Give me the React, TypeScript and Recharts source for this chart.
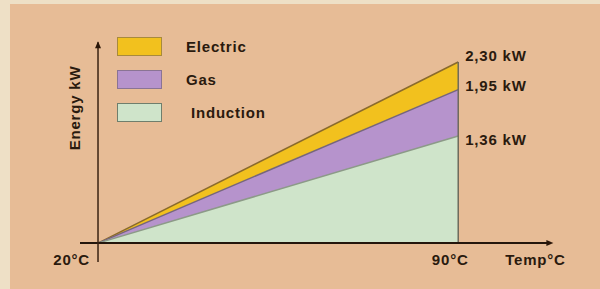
import React from 'react';
import { AreaChart, Area, XAxis, YAxis, ReferenceLine, ReferenceDot, Legend } from 'recharts';

const temps = [20, 90];
const electric = [0, 2.3];
const gas = [0, 1.95];
const induction = [0, 1.36];

const tickValues = [20, 90, 105];
const tickLabels = ['20°C', '90°C', 'Temp°C'];

const endLabels = ['2,30 kW', '1,95 kW', '1,36 kW'];

// small nudges so the labels sit like in the original drawing
const tickStyle = [
  { dx: -8, anchor: 'end' },
  { dx: -8, anchor: 'middle' },
  { dx: 0, anchor: 'middle' },
];

const series = [
  { key: 'Electric', values: electric, fill: '#f2c11e', stroke: '#8a6a2c', border: '#a88a3c', labelDy: -5 },
  { key: 'Gas', values: gas, fill: '#b693cc', stroke: '#76667c', border: '#8a7494', labelDy: -2.5 },
  { key: 'Induction', values: induction, fill: '#cfe4ca', stroke: '#8c9a88', border: '#6f7e6c', labelDy: 5 },
];

const font = '"Liberation Sans", Arial, sans-serif';

const data = temps.map((t, i) => {
  let obj: any = { temp: t };
  series.forEach(s => {
    obj[s.key] = s.values[i];
  });
  return obj;
});

function TempTick(props: any) {
  const idx = tickValues.indexOf(props.payload.value);
  const st = tickStyle[idx];
  return (
    <text x={props.x + st.dx} y={props.y - 5} textAnchor={st.anchor} fontFamily={font} fontWeight="bold"
      fontSize={15} letterSpacing={0.8} fill="#2a1a0e">
      {tickLabels[idx]}
    </text>
  );
}

function LegendBox() {
  return (
    <div style={{ fontFamily: font, fontWeight: 'bold', fontSize: 15, letterSpacing: 0.8, color: '#2a1a0e' }}>
      {series.map((s, i) => (
        <div key={s.key} style={{ display: 'flex', alignItems: 'center', height: 33 }}>
          <div style={{ width: 43, height: 17, background: s.fill, border: '1px solid ' + s.border }} />
          <span style={{ marginLeft: i == 2 ? 29 : 24 }}>{s.key}</span>
        </div>
      ))}
    </div>
  );
}

function endLabel(idx: number) {
  return (props: any) => {
    if (props.index !== temps.length - 1) return null;
    return (
      <text x={props.x + 7} y={props.y + series[idx].labelDy} dominantBaseline="middle" fontFamily={font}
        fontWeight="bold" fontSize={15} letterSpacing={0.8} fill="#2a1a0e">
        {endLabels[idx]}
      </text>
    );
  };
}

function Arrow(props: any) {
  const { cx, cy, dir } = props;
  if (dir === 'up') {
    return <polygon points={`${cx - 3},${cy + 6} ${cx + 3},${cy + 6} ${cx},${cy - 1}`} fill="#2a1608" />;
  }
  return <polygon points={`${cx - 6},${cy - 3} ${cx - 6},${cy + 3} ${cx + 1},${cy}`} fill="#2a1608" />;
}

export default function App() {
  return (
    <div style={{ position: 'absolute', left: 0, top: 0, width: 600, height: 289, background: '#eee0c6' }}>
      <div style={{ position: 'absolute', left: 10, top: 4, right: 0, bottom: 0, background: '#e7bc96' }} />
      <div style={{ position: 'absolute', left: 0, top: 0 }}>
        <AreaChart width={600} height={289} data={data} margin={{ top: 40, right: 44, left: 80, bottom: 0 }}>
          <XAxis dataKey="temp" type="number" domain={[16.5, 109]} ticks={tickValues} height={27}
            axisLine={false} tickLine={false} tick={<TempTick />} interval={0} />
          <YAxis type="number" domain={[-0.24, 2.58]} hide />
          {series.map((s, idx) => (
            <Area key={s.key} type="linear" dataKey={s.key} baseValue={0} fill={s.fill} fillOpacity={1}
              stroke={s.stroke} strokeWidth={1.5} isAnimationActive={false} label={endLabel(idx)} />
          ))}
          <ReferenceLine segment={[{ x: 90, y: 0 }, { x: 90, y: electric[1] }]} stroke="#6e6a5c" strokeWidth={1.5} />
          <ReferenceLine segment={[{ x: 16.5, y: 0 }, { x: 108, y: 0 }]} stroke="#24160c" strokeWidth={2} />
          <ReferenceLine segment={[{ x: 20, y: -0.24 }, { x: 20, y: 2.55 }]} stroke="#3a2212" strokeWidth={1.5} />
          <ReferenceDot x={20} y={2.55} r={0} shape={<Arrow dir="up" />} />
          <ReferenceDot x={108.3} y={0} r={0} shape={<Arrow dir="right" />} />
          <Legend layout="vertical" align="center" verticalAlign="middle" content={<LegendBox />}
            wrapperStyle={{ left: 117, top: 30, width: 200, height: 100 }} />
        </AreaChart>
      </div>
      <div style={{ position: 'absolute', left: 74, top: 108, transform: 'translate(-50%, -50%) rotate(-90deg)',
        fontFamily: font, fontWeight: 'bold', fontSize: 15, letterSpacing: 0.8, color: '#2a1a0e', whiteSpace: 'nowrap' }}>
        Energy kW
      </div>
    </div>
  );
}
